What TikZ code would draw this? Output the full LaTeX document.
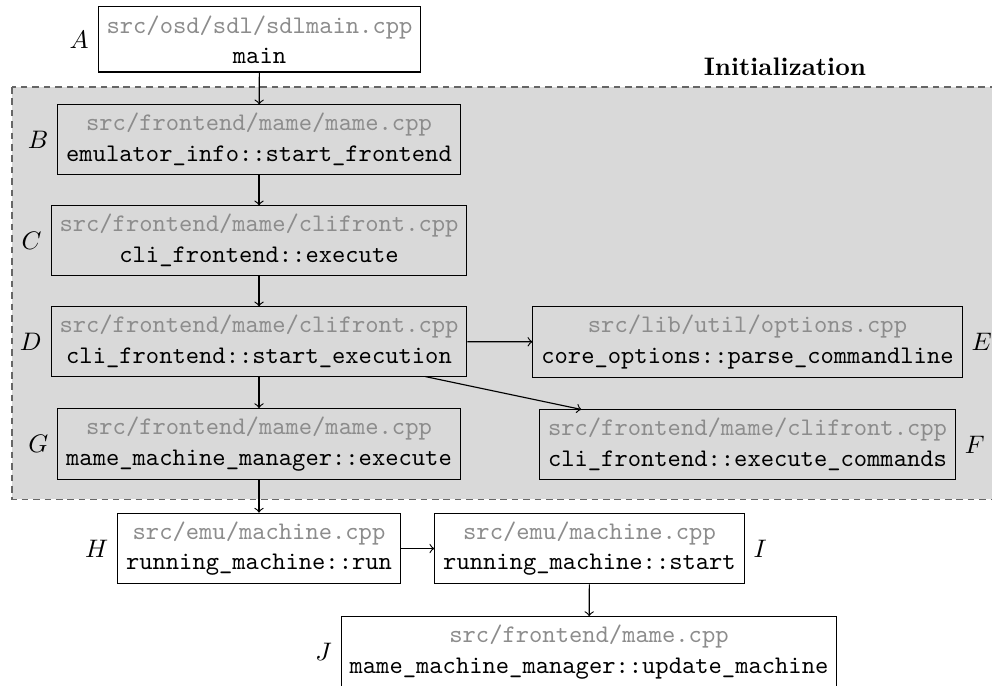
\documentclass[tikz,border=0pt]{standalone}
\begin{document}
\begin{tikzpicture}[x=0.3948pt,y=-0.3948pt,
  fn/.style={draw=black, line width=0.4pt, align=center, font=\ttfamily},
  flow/.style={->, line width=0.45pt},
  region/.style={fill=black!15, draw=black!60, line width=0.4pt, dash pattern=on 2.6pt off 1.9pt}]
\useasboundingbox (0,0) rectangle (992,685);

% shaded initialization block
\path[region] (12,87) rectangle (1004,499);
\node[font=\bfseries, anchor=base east] (inittitle) at (875,76) {Initialization};

% call chain
\node[fn, label=left:$A$] (A) at (259.5,39.5)
  {{\color{black!45}src/osd/sdl/sdlmain.cpp}\\main};
\node[fn, label=left:$B$] (B) at (259,139.5)
  {{\color{black!45}src/frontend/mame/mame.cpp}\\emulator\_info::start\_frontend};
\node[fn, label=left:$C$] (C) at (259,240.5)
  {{\color{black!45}src/frontend/mame/clifront.cpp}\\cli\_frontend::execute};
\node[fn, label=left:$D$] (D) at (259,341.5)
  {{\color{black!45}src/frontend/mame/clifront.cpp}\\cli\_frontend::start\_execution};
\node[fn, label=right:$E$] (E) at (747.5,342)
  {{\color{black!45}src/lib/util/options.cpp}\\core\_options::parse\_commandline};
\node[fn, label=left:$G$] (G) at (259,444)
  {{\color{black!45}src/frontend/mame/mame.cpp}\\mame\_machine\_manager::execute};
\node[fn, label=right:$F$] (F) at (747.5,444.5)
  {{\color{black!45}src/frontend/mame/clifront.cpp}\\cli\_frontend::execute\_commands};
\node[fn, label=left:$H$] (H) at (259,548.5)
  {{\color{black!45}src/emu/machine.cpp}\\running\_machine::run};
\node[fn, label=right:$I$] (I) at (589.5,548.5)
  {{\color{black!45}src/emu/machine.cpp}\\running\_machine::start};
\node[fn, label=left:$J$] (J) at (589,652)
  {{\color{black!45}src/frontend/mame.cpp}\\mame\_machine\_manager::update\_machine};

% connectors
\draw[flow] (A) -- (B);
\draw[flow] (B) -- (C);
\draw[flow] (C) -- (D);
\draw[flow] (D) -- (G);
\draw[flow] (D) -- (E);
\draw[flow] (D) -- (F);
\draw[flow] (G) -- (H);
\draw[flow] (H) -- (I);
\draw[flow] (I) -- (J);
\end{tikzpicture}
\end{document}
